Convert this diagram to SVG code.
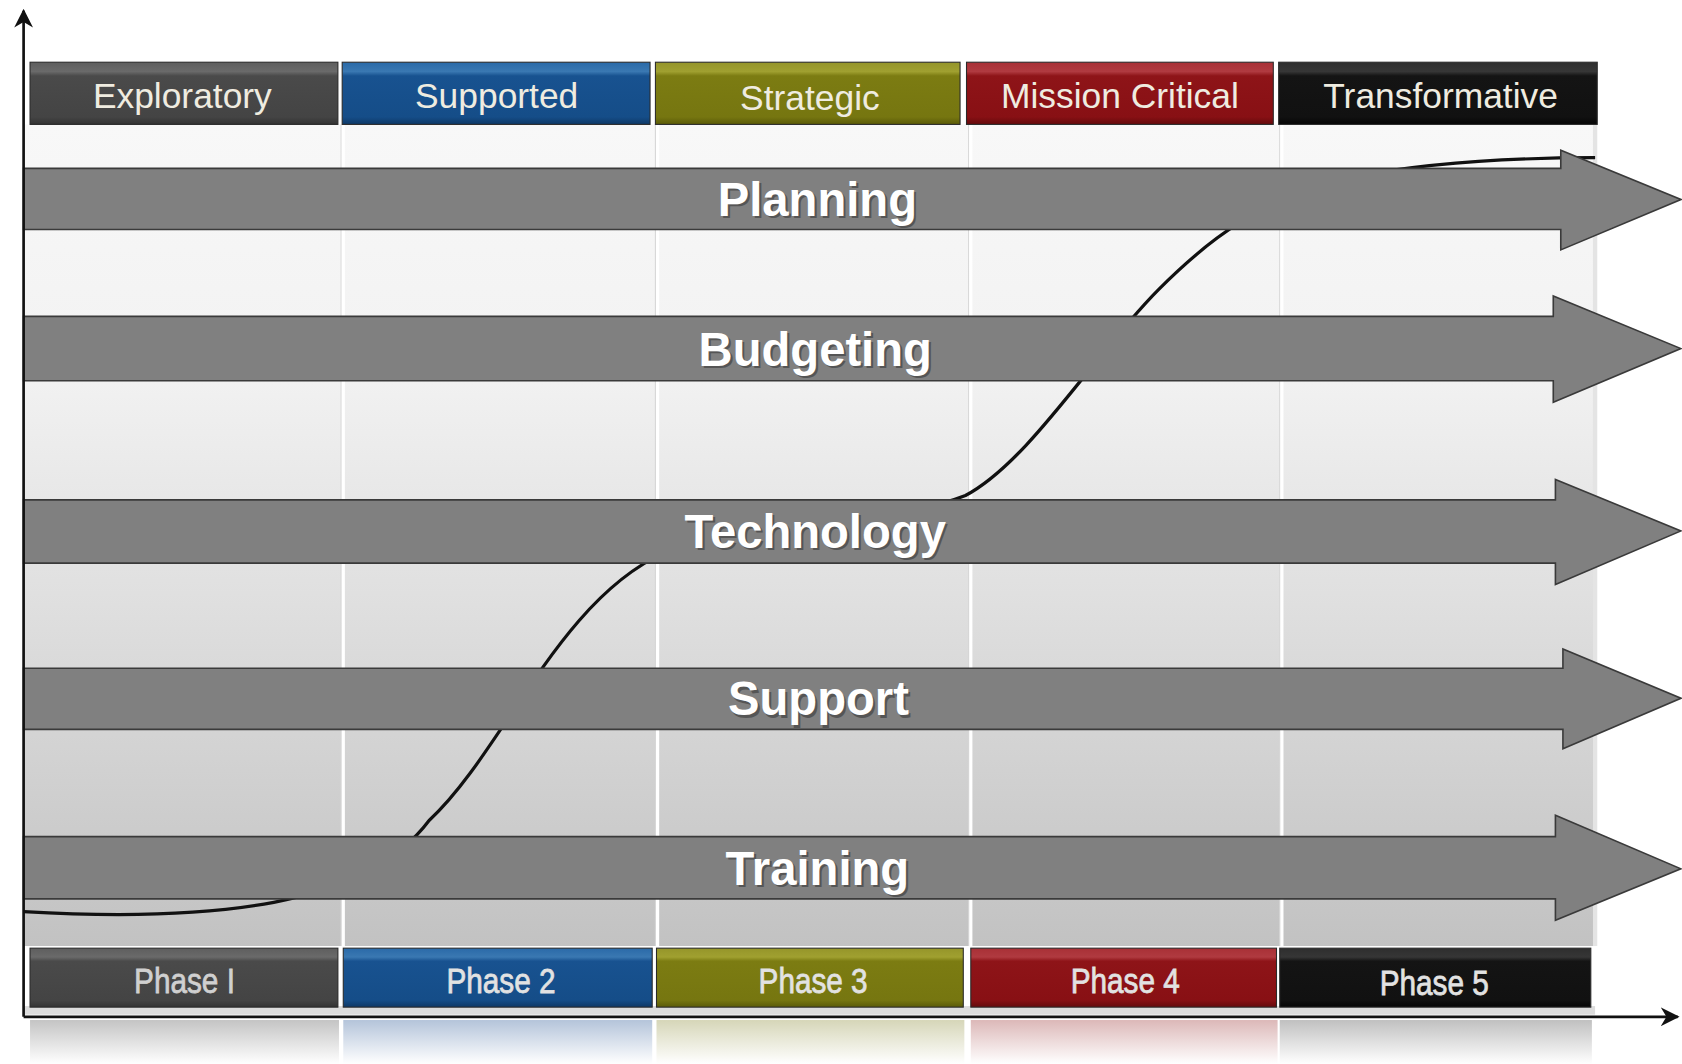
<svg xmlns="http://www.w3.org/2000/svg" width="1682" height="1064" viewBox="0 0 1682 1064">
<defs>
<style>
.hdr{font-family:"Liberation Sans",Arial,sans-serif;font-size:33px;fill:#efece0;text-anchor:middle}
.ph{font-family:"Liberation Sans",Arial,sans-serif;font-size:33px;fill:#e2e2e2;stroke:#e2e2e2;stroke-width:0.7;text-anchor:middle}
.lbl{font-family:"Liberation Sans",Arial,sans-serif;font-size:44px;font-weight:bold;fill:#ffffff;text-anchor:middle}
.sh{font-family:"Liberation Sans",Arial,sans-serif;font-size:44px;font-weight:bold;fill:#3a3a3a;text-anchor:middle;opacity:0.6}
.arr{fill:#808080;stroke:#3a3a3a;stroke-width:1.5;stroke-linejoin:miter}
.sep{stroke:#ffffff;stroke-width:3}
.sep2{stroke:#d6d6d6;stroke-width:1}
.axis{stroke:#111;stroke-width:2.5;fill:none}
.box{stroke:#2a2a2a;stroke-width:1}
</style>
<linearGradient id="bg" x1="0" y1="0" x2="0" y2="1">
<stop offset="0" stop-color="#f8f8f8"/>
<stop offset="0.3" stop-color="#f2f2f2"/>
<stop offset="0.6" stop-color="#dedede"/>
<stop offset="1" stop-color="#c2c2c2"/>
</linearGradient>
<linearGradient id="gGray" x1="0" y1="0" x2="0" y2="1">
<stop offset="0" stop-color="#5e5e5e"/><stop offset="0.15" stop-color="#6a6a6a"/><stop offset="0.22" stop-color="#4a4a4a"/><stop offset="0.88" stop-color="#444"/><stop offset="1" stop-color="#333"/>
</linearGradient>
<linearGradient id="gBlue" x1="0" y1="0" x2="0" y2="1">
<stop offset="0" stop-color="#2a6aa8"/><stop offset="0.15" stop-color="#3a78b2"/><stop offset="0.22" stop-color="#185290"/><stop offset="0.88" stop-color="#154d88"/><stop offset="1" stop-color="#0e3866"/>
</linearGradient>
<linearGradient id="gOlive" x1="0" y1="0" x2="0" y2="1">
<stop offset="0" stop-color="#95952a"/><stop offset="0.15" stop-color="#a0a030"/><stop offset="0.22" stop-color="#7c7c12"/><stop offset="0.88" stop-color="#767610"/><stop offset="1" stop-color="#5a5a08"/>
</linearGradient>
<linearGradient id="gRed" x1="0" y1="0" x2="0" y2="1">
<stop offset="0" stop-color="#a83036"/><stop offset="0.15" stop-color="#b03a40"/><stop offset="0.22" stop-color="#8e1418"/><stop offset="0.88" stop-color="#881014"/><stop offset="1" stop-color="#640a0c"/>
</linearGradient>
<linearGradient id="gBlack" x1="0" y1="0" x2="0" y2="1">
<stop offset="0" stop-color="#2e2e2e"/><stop offset="0.15" stop-color="#363636"/><stop offset="0.22" stop-color="#141414"/><stop offset="0.88" stop-color="#111"/><stop offset="1" stop-color="#050505"/>
</linearGradient>
<linearGradient id="rGray" x1="0" y1="0" x2="0" y2="1"><stop offset="0" stop-color="#c4c4c4"/><stop offset="1" stop-color="#ffffff"/></linearGradient>
<linearGradient id="rBlue" x1="0" y1="0" x2="0" y2="1"><stop offset="0" stop-color="#b4c4da"/><stop offset="1" stop-color="#ffffff"/></linearGradient>
<linearGradient id="rOlive" x1="0" y1="0" x2="0" y2="1"><stop offset="0" stop-color="#d6d6b8"/><stop offset="1" stop-color="#ffffff"/></linearGradient>
<linearGradient id="rRed" x1="0" y1="0" x2="0" y2="1"><stop offset="0" stop-color="#dcb8b8"/><stop offset="1" stop-color="#ffffff"/></linearGradient>
<linearGradient id="rBlack" x1="0" y1="0" x2="0" y2="1"><stop offset="0" stop-color="#c0c0c0"/><stop offset="1" stop-color="#ffffff"/></linearGradient>
<marker id="ah" viewBox="0 0 10 10" refX="9" refY="5" markerWidth="7" markerHeight="7" orient="auto" markerUnits="strokeWidth">
<path d="M0,0 L10,5 L0,10 L3,5 Z" fill="#111"/>
</marker>
</defs>
<rect width="1682" height="1064" fill="#ffffff"/>
<g transform="scale(1.0727,1.07258)">
<g id="panel">
<rect x="22" y="116" width="1465" height="766" fill="url(#bg)"/>
<rect x="1485" y="116" width="4" height="766" fill="#e4e4e4"/>
<line class="sep2" x1="318" y1="116" x2="318" y2="882"/>
<line class="sep" x1="320" y1="116" x2="320" y2="882"/>
<line class="sep2" x1="611" y1="116" x2="611" y2="882"/>
<line class="sep" x1="613" y1="116" x2="613" y2="882"/>
<line class="sep2" x1="903" y1="116" x2="903" y2="882"/>
<line class="sep" x1="905" y1="116" x2="905" y2="882"/>
<line class="sep2" x1="1193" y1="116" x2="1193" y2="882"/>
<line class="sep" x1="1195" y1="116" x2="1195" y2="882"/>
<rect x="22" y="938" width="1465" height="8" fill="#dcdcdc"/>
</g>
<g id="reflection">
<rect x="28" y="951" width="288" height="41" fill="url(#rGray)"/>
<rect x="320" y="951" width="288" height="41" fill="url(#rBlue)"/>
<rect x="612" y="951" width="287" height="41" fill="url(#rOlive)"/>
<rect x="905" y="951" width="286" height="41" fill="url(#rRed)"/>
<rect x="1193" y="951" width="291" height="41" fill="url(#rBlack)"/>
</g>
<g id="curve">
<path d="M22 850 C200 860 340 845 400 765 C470 700 520 560 620 515 C700 485 830 490 900 462 C960 430 1020 330 1080 270 C1130 220 1170 190 1260 165 C1340 150 1420 147 1487 147" fill="none" stroke="#111" stroke-width="3"/>
</g>
<g id="header-exploratory">
<rect class="box" x="28" y="58" width="287" height="58" fill="url(#gGray)"/>
<text class="hdr" x="170" y="101">Exploratory</text>
</g>
<g id="header-supported">
<rect class="box" x="319" y="58" width="287" height="58" fill="url(#gBlue)"/>
<text class="hdr" x="463" y="101">Supported</text>
</g>
<g id="header-strategic">
<rect class="box" x="611" y="58" width="284" height="58" fill="url(#gOlive)"/>
<text class="hdr" x="755" y="103">Strategic</text>
</g>
<g id="header-mission-critical">
<rect class="box" x="901" y="58" width="286" height="58" fill="url(#gRed)"/>
<text class="hdr" x="1044" y="101">Mission Critical</text>
</g>
<g id="header-transformative">
<rect class="box" x="1192" y="58" width="297" height="58" fill="url(#gBlack)"/>
<text class="hdr" x="1343" y="101">Transformative</text>
</g>
<g id="phase-1">
<rect class="box" x="28" y="884" width="287" height="55" fill="url(#gGray)"/>
<text class="ph" transform="translate(172,926) scale(0.84,1)" style="fill:#d0d0d0;stroke:#d0d0d0">Phase I</text>
</g>
<g id="phase-2">
<rect class="box" x="320" y="884" width="288" height="55" fill="url(#gBlue)"/>
<text class="ph" transform="translate(467,926) scale(0.84,1)">Phase 2</text>
</g>
<g id="phase-3">
<rect class="box" x="612" y="884" width="286" height="55" fill="url(#gOlive)"/>
<text class="ph" transform="translate(758,926) scale(0.84,1)">Phase 3</text>
</g>
<g id="phase-4">
<rect class="box" x="905" y="884" width="285" height="55" fill="url(#gRed)"/>
<text class="ph" transform="translate(1049,926) scale(0.84,1)">Phase 4</text>
</g>
<g id="phase-5">
<rect class="box" x="1193" y="884" width="290" height="55" fill="url(#gBlack)"/>
<text class="ph" transform="translate(1337,928) scale(0.84,1)">Phase 5</text>
</g>
<g id="arrow-planning">
<polygon class="arr" points="22,157 1455,157 1455,140 1567,186 1455,233 1455,214 22,214"/>
<text class="sh" x="764" y="203">Planning</text>
<text class="lbl" x="762" y="201">Planning</text>
</g>
<g id="arrow-budgeting">
<polygon class="arr" points="22,295 1448,295 1448,276 1567,325 1448,375 1448,355 22,355"/>
<text class="sh" x="762" y="343">Budgeting</text>
<text class="lbl" x="760" y="341">Budgeting</text>
</g>
<g id="arrow-technology">
<polygon class="arr" points="22,466 1450,466 1450,447 1567,495 1450,545 1450,525 22,525"/>
<text class="sh" x="762" y="513">Technology</text>
<text class="lbl" x="760" y="511">Technology</text>
</g>
<g id="arrow-support">
<polygon class="arr" points="22,623 1457,623 1457,605 1567,651 1457,698 1457,680 22,680"/>
<text class="sh" x="765" y="669">Support</text>
<text class="lbl" x="763" y="667">Support</text>
</g>
<g id="arrow-training">
<polygon class="arr" points="22,780 1450,780 1450,760 1567,810 1450,858 1450,838 22,838"/>
<text class="sh" x="764" y="827">Training</text>
<text class="lbl" x="762" y="825">Training</text>
</g>
<g id="connectors">
<line class="axis" x1="22" y1="948" x2="22" y2="10" marker-end="url(#ah)"/>
<line class="axis" x1="22" y1="948" x2="1564" y2="948" marker-end="url(#ah)"/>
</g>
</g>
</svg>
